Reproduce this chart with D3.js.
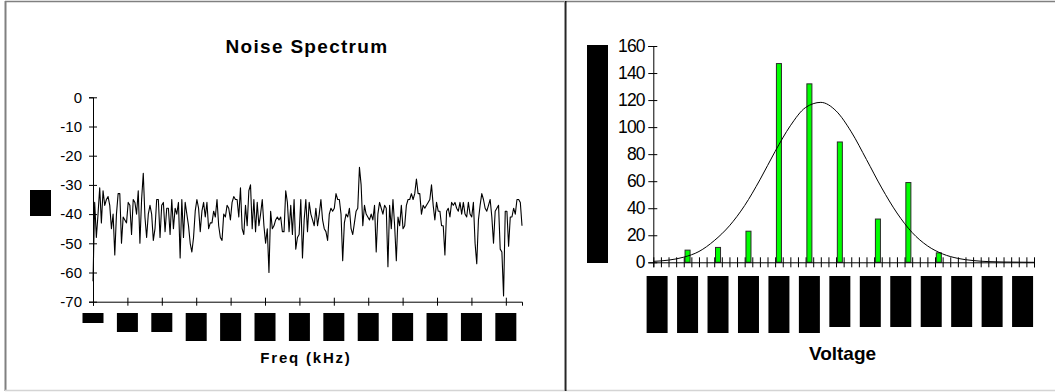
<!DOCTYPE html>
<html><head><meta charset="utf-8">
<script src="https://cdn.jsdelivr.net/npm/d3@7"></script>
<style>
body{margin:0;background:#fff}
svg{display:block}
text{font-family:"Liberation Sans",Arial,Helvetica,sans-serif;fill:#000}
</style>
</head><body>
<svg id="c" width="1055" height="392"></svg>
<script>
// ---------- DATA ----------
// Noise spectrum (dB), evenly spaced over the frequency axis
const noiseDb = [
-63,-36,-48,-40,-31,-43,-32,-37,-35,-34,
-37,-45,-40,-54,-40,-33,-33,-50,-41,-42,
-43,-36,-37,-47,-35,-36,-40,-32,-50,-35,
-26,-41,-48,-40,-37,-40,-49,-45,-35,-35,
-48,-37,-36,-46,-38,-38,-47,-35,-45,-38,
-40,-36,-55,-35,-48,-36,-40,-44,-50,-53,
-48,-39,-35,-38,-46,-39,-36,-41,-36,-45,
-43,-43,-39,-41,-35,-44,-48,-49,-40,-41,
-37,-38,-42,-36,-34,-35,-35,-41,-31,-45,
-47,-37,-44,-32,-30,-45,-35,-46,-36,-44,
-40,-35,-44,-50,-45,-60,-39,-45,-44,-42,
-41,-42,-41,-46,-46,-32,-36,-46,-37,-47,
-35,-52,-48,-47,-35,-55,-42,-35,-46,-36,
-40,-42,-44,-38,-44,-40,-35,-42,-45,-46,
-49,-40,-38,-39,-38,-33,-35,-35,-40,-56,
-43,-40,-41,-38,-45,-47,-43,-39,-38,-24,
-30,-44,-37,-40,-41,-42,-40,-42,-37,-53,
-40,-36,-38,-40,-37,-38,-58,-37,-45,-35,
-44,-56,-41,-44,-37,-45,-44,-37,-35,-35,
-33,-35,-33,-28,-33,-33,-40,-37,-38,-37,
-36,-35,-30,-37,-42,-36,-39,-39,-44,-44,
-54,-39,-38,-41,-36,-37,-36,-38,-39,-36,
-40,-36,-40,-41,-36,-40,-41,-36,-50,-57,
-42,-37,-33,-35,-38,-39,-37,-35,-41,-50,
-39,-38,-37,-52,-53,-68,-39,-39,-51,-41,
-41,-38,-40,-35,-35,-36,-44
];
const freqTicks = [0,1,2,3,4,5,6,7,8,9,10,11,12];
const freqMax = 12.47;
const dbTicks = [0,-10,-20,-30,-40,-50,-60,-70];

// Voltage histogram
const voltBins = d3.range(50);
const barBins = [4,8,12,16,20,24,29,33,37];
const barCounts = [9,11,23,147,132,89,32,59,7];
const voltLabelBins = [0,4,8,12,16,20,24,28,32,36,40,44,48];
const countTicks = [0,20,40,60,80,100,120,140,160];
const fitX = [0,2,4,6,8,10,12,14,16,18,20,22,24,26,28,30,32,34,36,38,40,42,44,46,48,50];
const fitY = [0.7,1.6,3.8,8,16,27,42,61,82,101,114.5,118.3,112,96.5,76,55,36.5,22,12.2,6.2,2.9,1.3,0.5,0.2,0.1,0];

// ---------- STYLE / LAYOUT ----------
const svg = d3.select("#c");
const leftBoxH = [10,19,19,28,28,28,28,28,28,28,28,28,28];
const rightBoxH = [57,57,57,57,57,57,51,51,51,51,51,51,51];
const plain = d => String(d);

// frame
svg.append("rect").attr("x",0).attr("y",0).attr("width",1055).attr("height",392).attr("fill","#fff");
svg.append("line").attr("x1",5).attr("x2",1055).attr("y1",1.5).attr("y2",1.5).attr("stroke","#808080").attr("stroke-width",1.5);
svg.append("line").attr("x1",5.5).attr("x2",5.5).attr("y1",1).attr("y2",391).attr("stroke","#808080").attr("stroke-width",2);
svg.append("line").attr("x1",5).attr("x2",1055).attr("y1",390.5).attr("y2",390.5).attr("stroke","#d4d4d4").attr("stroke-width",1.5);
svg.append("line").attr("x1",564.5).attr("x2",564.5).attr("y1",1).attr("y2",391).attr("stroke","#9a9a9a").attr("stroke-width",1);
svg.append("line").attr("x1",565.8).attr("x2",565.8).attr("y1",1).attr("y2",391).attr("stroke","#000").attr("stroke-width",1.3);

// ---------- LEFT: Noise Spectrum ----------
const xF = d3.scaleLinear().domain([0,freqMax]).range([93,522]);
const yDb = d3.scaleLinear().domain([-70,0]).range([301.7,97.3]);

svg.append("text").attr("x",307).attr("y",53).attr("text-anchor","middle")
  .style("font-size","19px").style("font-weight","bold").style("letter-spacing","1.3px")
  .text("Noise Spectrum");

const gyL = svg.append("g").attr("transform","translate(93,0)")
  .call(d3.axisLeft(yDb).tickValues(dbTicks).tickFormat(plain).tickSizeOuter(0).tickSize(4).tickPadding(7));
gyL.select(".domain").attr("stroke","#000");
gyL.selectAll(".tick line").attr("x1",4).attr("stroke","#000");
gyL.selectAll(".tick text").style("font-size","15px").style("font-family","Liberation Sans, Arial, sans-serif");

const gxL = svg.append("g").attr("transform","translate(0,301.7)")
  .call(d3.axisBottom(xF).tickValues(freqTicks).tickFormat("").tickSizeOuter(0).tickSize(4));
gxL.select(".domain").attr("stroke","#000");
gxL.selectAll(".tick line").attr("y1",-4).attr("stroke","#000");

// redacted tick labels (black boxes)
svg.append("g").selectAll("rect").data(freqTicks).join("rect")
  .attr("x",d=>xF(d)-10.5).attr("y",313).attr("width",21).attr("height",(d,i)=>leftBoxH[i]).attr("fill","#000");
svg.append("rect").attr("x",30).attr("y",190).attr("width",21).attr("height",26).attr("fill","#000");

const fStep = freqMax/(noiseDb.length-1);
svg.append("path").datum(noiseDb)
  .attr("fill","none").attr("stroke","#000").attr("stroke-width",1.1).attr("stroke-linejoin","round")
  .attr("d", d3.line().x((d,i)=>xF(i*fStep)).y(d=>yDb(d)));

svg.append("text").attr("x",306).attr("y",363).attr("text-anchor","middle")
  .style("font-size","15px").style("font-weight","bold").style("letter-spacing","1.8px")
  .text("Freq (kHz)");

// ---------- RIGHT: Voltage histogram ----------
const xV = d3.scaleLinear().domain([0,50]).range([653.3,1034]);
const xB = d3.scaleBand().domain(voltBins).range([653.3,1034]).paddingInner(0.34).paddingOuter(0.17);
const yC = d3.scaleLinear().domain([0,160]).range([262.3,46]);

svg.append("rect").attr("x",587).attr("y",45).attr("width",21).attr("height",218).attr("fill","#000");

const gyR = svg.append("g").attr("transform","translate(653.3,0)")
  .call(d3.axisLeft(yC).tickValues(countTicks).tickFormat(plain).tickSizeOuter(0).tickSize(5).tickPadding(3.5));
gyR.select(".domain").attr("stroke","#000");
gyR.selectAll(".tick line").attr("x1",4).attr("stroke","#000");
gyR.selectAll(".tick text").style("font-size","17.5px").style("letter-spacing","-0.8px")
  .style("font-family","Liberation Sans, Arial, sans-serif");

// bars
svg.append("g").selectAll("rect").data(barBins).join("rect")
  .attr("x",d=>xB(d)).attr("width",xB.bandwidth())
  .attr("y",(d,i)=>yC(barCounts[i])).attr("height",(d,i)=>yC(0)-yC(barCounts[i]))
  .attr("fill","#00ff00").attr("stroke","#2a2a2a").attr("stroke-width",1);

// fitted curve
svg.append("path").datum(fitX)
  .attr("fill","none").attr("stroke","#000").attr("stroke-width",1)
  .attr("d", d3.line().x(d=>xV(d)).y((d,i)=>yC(fitY[i])).curve(d3.curveMonotoneX));

const gxR = svg.append("g").attr("transform","translate(0,262.3)")
  .call(d3.axisBottom(xV).tickValues(d3.range(0,51)).tickFormat("").tickSizeOuter(0).tickSize(5));
gxR.select(".domain").attr("stroke","#000");
gxR.selectAll(".tick line").attr("y1",-5).attr("stroke","#000");

svg.append("g").selectAll("rect").data(voltLabelBins).join("rect")
  .attr("x",d=>xB(d)+xB.bandwidth()/2-10.5).attr("y",276).attr("width",21)
  .attr("height",(d,i)=>rightBoxH[i]).attr("fill","#000");

svg.append("text").attr("x",842.5).attr("y",360).attr("text-anchor","middle")
  .style("font-size","19px").style("font-weight","bold").text("Voltage");
</script>
</body></html>
